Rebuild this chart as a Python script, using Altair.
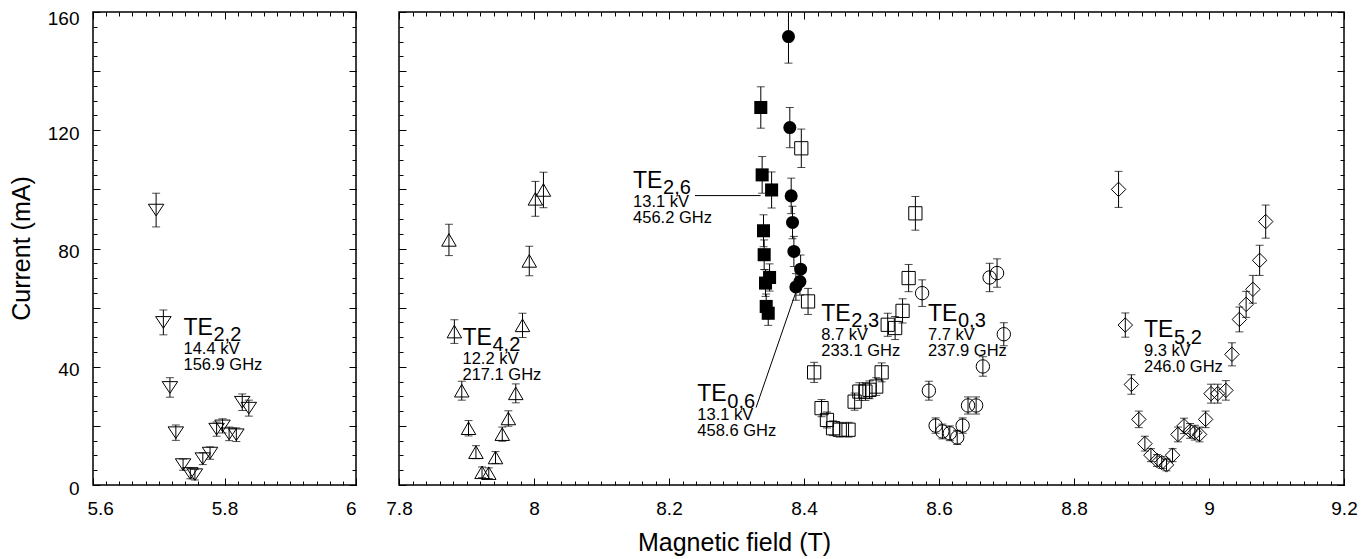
import altair as alt
import pandas as pd

FONT = "Liberation Sans"

# ---------------- data ----------------
# TE2,2 (left panel, open down-triangles)
te22_x = [5.696, 5.707, 5.717, 5.726, 5.737, 5.748, 5.755, 5.767, 5.778, 5.788, 5.797, 5.807, 5.818, 5.827, 5.837]
te22_y = [93, 55, 33, 17.7, 6.9, 3.9, 3.5, 8.9, 10.8, 18.9, 20, 17.3, 17, 28, 26]
te22_e = [5.7, 4.2, 3.3, 2.6, 1.9, 1.8, 1.8, 2.0, 2.1, 2.4, 2.4, 2.3, 2.3, 2.8, 2.7]

# TE4,2 (open up-triangles)
te42_x = [7.874, 7.882, 7.893, 7.903, 7.914, 7.923, 7.933, 7.943, 7.953, 7.962, 7.973, 7.983, 7.993, 8.002, 8.014]
te42_y = [82.9, 51.9, 31.9, 19.2, 11.1, 4.3, 4.0, 9.3, 17.2, 22.5, 31.0, 54.0, 75.8, 96.8, 99.8]
te42_e = [5.3, 4.0, 3.2, 2.6, 2.2, 1.8, 1.8, 2.0, 2.4, 2.6, 3.2, 4.1, 5.0, 5.9, 6.0]

# TE2,6 (filled squares)
te26_x = [8.336, 8.338, 8.352, 8.340, 8.341, 8.343, 8.349, 8.344, 8.347]
te26_y = [127.7, 104.9, 99.8, 86.0, 77.9, 68.3, 70.2, 60.4, 58.1]
te26_e = [7.0, 6.2, 6.1, 5.4, 5.0, 4.5, 4.6, 4.2, 4.1]

# TE0,6 (filled circles)
te06_x = [8.377, 8.379, 8.381, 8.383, 8.385, 8.395, 8.394, 8.388]
te06_y = [151.7, 120.9, 97.8, 88.8, 79.0, 73.0, 68.8, 67.0]
te06_e = [9.0, 6.8, 6.0, 5.5, 5.1, 4.8, 4.6, 4.5]

# TE2,3 (open squares)
te23_x = [8.396, 8.406, 8.415, 8.426, 8.434, 8.443, 8.453, 8.466, 8.475, 8.482, 8.491, 8.497, 8.507, 8.515, 8.524, 8.535, 8.546, 8.555, 8.565]
te23_y = [113.9, 62.1, 38.1, 26.0, 22.0, 19.2, 18.7, 18.7, 28.2, 31.6, 31.6, 32.2, 33.3, 38.1, 54.2, 53.1, 58.9, 70.0, 91.9]
te23_e = [6.5, 4.4, 3.4, 2.9, 2.7, 2.5, 2.5, 2.5, 2.9, 3.0, 3.0, 3.0, 3.0, 3.2, 3.9, 3.9, 4.1, 4.6, 5.7]

# TE0,3 (open circles)
te03_x = [8.575, 8.585, 8.595, 8.605, 8.616, 8.627, 8.635, 8.643, 8.655, 8.665, 8.675, 8.686, 8.696]
te03_y = [64.9, 31.9, 20.1, 18.1, 17.5, 16.1, 20.1, 26.9, 26.9, 40.1, 70.2, 71.7, 51.0]
te03_e = [4.5, 3.2, 2.6, 2.5, 2.5, 2.4, 2.6, 2.9, 2.9, 3.3, 4.8, 4.8, 3.9]

# TE5,2 (open diamonds)
te52_x = [8.866, 8.876, 8.885, 8.896, 8.905, 8.914, 8.923, 8.930, 8.937, 8.946, 8.954, 8.963, 8.972,
          8.979, 8.986, 8.995, 9.003, 9.013, 9.025, 9.034, 9.045, 9.055, 9.065, 9.075, 9.084]
te52_y = [100, 54.1, 34, 22.2, 14, 10.1, 8.3, 7.6, 6.8, 10.1, 17.1, 20, 18.3,
          17.7, 17.1, 22.2, 30.9, 30.9, 32, 44.2, 56, 61.1, 66.2, 76, 89.1]
te52_e = [6.1, 4.1, 3.3, 2.8, 2.5, 2.2, 2.0, 2.0, 2.0, 2.2, 2.5, 2.6, 2.5,
          2.5, 2.5, 2.8, 3.2, 3.2, 3.3, 3.9, 4.2, 4.4, 4.7, 5.1, 5.6]

# mode labels: anchor (left / baseline of "TE") in data coordinates
lab_left_mode = ["2,2"]
lab_left_kv = ["14.4 kV"]
lab_left_ghz = ["156.9 GHz"]
lab_left_x = [5.7376]
lab_left_y = [50.8]

lab_right_mode = ["4,2", "2,6", "0,6", "2,3", "0,3", "5,2"]
lab_right_kv = ["12.2 kV", "13.1 kV", "13.1 kV", "8.7 kV", "7.7 kV", "9.3 kV"]
lab_right_ghz = ["217.1 GHz", "456.2 GHz", "458.6 GHz", "233.1 GHz", "237.9 GHz", "246.0 GHz"]
lab_right_x = [7.894, 8.1467, 8.2419, 8.4256, 8.5837, 8.9037]
lab_right_y = [47.4, 100.6, 28.4, 55.5, 55.5, 49.9]

# leader lines (data coordinates)
lead_x = [8.2385, 8.329]
lead_y = [97.9, 26.2]
lead_x2 = [8.3357, 8.390]
lead_y2 = [97.9, 66.6]

# axis tick values
y_major = list(range(0, 161, 20))
y_minor = list(range(0, 161, 5))
x_major_left = [5.6, 5.8, 6.0]
x_minor_left = [round(5.6 + 0.02 * i, 2) for i in range(21)]
x_major_right = [round(7.8 + 0.2 * i, 1) for i in range(8)]
x_minor_right = [round(7.8 + 0.02 * i, 2) for i in range(71)]

# ---------------- helpers ----------------
def sdf(xs, ys, es):
    return pd.DataFrame({"x": xs, "y": ys,
                         "lo": [y - e for y, e in zip(ys, es)],
                         "hi": [y + e for y, e in zip(ys, es)]})

ys = alt.Scale(domain=[0, 160], nice=False, zero=False)
xs_left = alt.Scale(domain=[5.6, 6.0], nice=False, zero=False)
xs_right = alt.Scale(domain=[7.8, 9.2], nice=False, zero=False)

MAJ, MIN = 7, 4


def ax(orient, vals, size, **kw):
    """Axis drawn just inside the frame so that its ticks point inward."""
    base = dict(orient=orient, values=vals, tickSize=size, offset={"expr": str(-size)},
                domain=False, grid=False, tickColor="black", tickWidth=1, zindex=1,
                labels=False, title=None, labelFont=FONT, labelFontSize=19,
                labelColor="black", titleFont=FONT, titleColor="black",
                titleFontWeight="normal", minExtent=0, maxExtent=0)
    base.update(kw)
    return alt.Axis(**base)


def y_label_axis(title):
    kw = dict(labels=True, labelExpr="datum.value % 40 === 0 ? datum.label : ''",
              labelPadding=14, maxExtent=200,
              labelOffset={"condition": {"test": "datum.value === 160", "value": -3}, "value": 3},
              labelBaseline={"condition": {"test": "datum.value === 160", "value": "top"},
                             "value": "middle"})
    if title:
        kw.update(title=title, titleFontSize=25, titleX=-71, titleY=236,
                  titleAlign="center", titleBaseline="alphabetic", titleAngle=270)
    return ax("left", y_major, MAJ, **kw)


def x_label_axis(vals, title, flush):
    kw = dict(labels=True, labelExpr="format(datum.value, '~g')",
              labelPadding=14, labelOverlap=False, labelFlush=flush, maxExtent=200)
    if flush:
        kw.update(labelOffset={"condition": {"test": "datum.value < 5.65", "value": -6}, "value": 0})
    if title:
        kw.update(title=title, titleFontSize=25, titleX=335, titleY=72,
                  titleAlign="center", titleBaseline="alphabetic")
    return ax("bottom", vals, MAJ, **kw)


def axis_layers(df, xscale, xmaj, xmin, ytitle, xtitle, ylabels, flush):
    pairs = [
        (x_label_axis(xmaj, xtitle, flush), y_label_axis(ytitle) if ylabels else ax("left", y_major, MAJ)),
        (ax("bottom", xmin, MIN), ax("left", y_minor, MIN)),
        (ax("top", xmaj, MAJ), ax("right", y_major, MAJ)),
        (ax("top", xmin, MIN), ax("right", y_minor, MIN)),
    ]
    out = []
    for xa, ya in pairs:
        out.append(alt.Chart(df).mark_point(opacity=0).encode(
            x=alt.X("x:Q", scale=xscale, axis=xa),
            y=alt.Y("y:Q", scale=ys, axis=ya)))
    return out


def series_layers(df, xscale, mark_kw):
    base = alt.Chart(df)
    x = alt.X("x:Q", scale=xscale, axis=None)
    rule = base.mark_rule(color="black", strokeWidth=1, clip=True).encode(
        x=x, y=alt.Y("lo:Q", scale=ys, axis=None), y2="hi:Q")
    cap_lo = base.mark_tick(color="black", orient="horizontal", size=8, thickness=1, clip=True).encode(
        x=x, y=alt.Y("lo:Q", scale=ys, axis=None))
    cap_hi = base.mark_tick(color="black", orient="horizontal", size=8, thickness=1, clip=True).encode(
        x=x, y=alt.Y("hi:Q", scale=ys, axis=None))
    pts = base.mark_point(color="black", strokeWidth=1, opacity=1, clip=True, **mark_kw).encode(
        x=x, y=alt.Y("y:Q", scale=ys, axis=None))
    return [rule, cap_lo, cap_hi, pts]


def label_layers(df, xscale):
    base = alt.Chart(df)
    x = alt.X("x:Q", scale=xscale, axis=None)
    y = alt.Y("y:Q", scale=ys, axis=None)
    te = base.mark_text(align="left", baseline="alphabetic", font=FONT, fontSize=23,
                        color="black").encode(x=x, y=y, text=alt.value("TE"))
    sub = base.mark_text(align="left", baseline="alphabetic", font=FONT, fontSize=20,
                         color="black", dx=30, dy=6.5).encode(x=x, y=y, text="mode:N")
    kv = base.mark_text(align="left", baseline="alphabetic", font=FONT, fontSize=16.5,
                        color="black", dy=19).encode(x=x, y=y, text="kv:N")
    ghz = base.mark_text(align="left", baseline="alphabetic", font=FONT, fontSize=16.5,
                         color="black", dy=35).encode(x=x, y=y, text="ghz:N")
    return [te, sub, kv, ghz]


TRI_DOWN = "M-1,-0.75L1,-0.75L0,0.75Z"

# ---------------- left panel ----------------
d22 = sdf(te22_x, te22_y, te22_e)
lab_left = pd.DataFrame({"x": lab_left_x, "y": lab_left_y, "mode": lab_left_mode,
                         "kv": lab_left_kv, "ghz": lab_left_ghz})

left = alt.layer(
    *axis_layers(d22, xs_left, x_major_left, x_minor_left, "Current (mA)", None, True, True),
    *series_layers(d22, xs_left, dict(shape=TRI_DOWN, size=240, filled=False)),
    *label_layers(lab_left, xs_left),
).resolve_axis(x="independent", y="independent").properties(width=263, height=473)

# ---------------- right panel ----------------
d42 = sdf(te42_x, te42_y, te42_e)
d26 = sdf(te26_x, te26_y, te26_e)
d06 = sdf(te06_x, te06_y, te06_e)
d23 = sdf(te23_x, te23_y, te23_e)
d03 = sdf(te03_x, te03_y, te03_e)
d52 = sdf(te52_x, te52_y, te52_e)

lab_right = pd.DataFrame({"x": lab_right_x, "y": lab_right_y, "mode": lab_right_mode,
                          "kv": lab_right_kv, "ghz": lab_right_ghz})
leads = pd.DataFrame({"x": lead_x, "y": lead_y, "x2": lead_x2, "y2": lead_y2})
lead_layer = alt.Chart(leads).mark_rule(color="black", strokeWidth=1).encode(
    x=alt.X("x:Q", scale=xs_right, axis=None), y=alt.Y("y:Q", scale=ys, axis=None),
    x2="x2:Q", y2="y2:Q")

right = alt.layer(
    *axis_layers(d42, xs_right, x_major_right, x_minor_right, None, "Magnetic field (T)", False, False),
    *series_layers(d42, xs_right, dict(shape="triangle-up", size=210, filled=False)),
    *series_layers(d23, xs_right, dict(shape="square", size=175, filled=False)),
    *series_layers(d03, xs_right, dict(shape="circle", size=180, filled=False)),
    *series_layers(d52, xs_right, dict(shape="diamond", size=210, filled=False)),
    *series_layers(d26, xs_right, dict(shape="square", size=170, filled=True)),
    *series_layers(d06, xs_right, dict(shape="circle", size=170, filled=True)),
    lead_layer,
    *label_layers(lab_right, xs_right),
).resolve_axis(x="independent", y="independent").properties(width=945, height=473)

chart = alt.hconcat(left, right, spacing=43, bounds="flush").properties(
    padding={"left": 0, "top": 0, "right": 5, "bottom": 0},
    background="white",
).configure_view(stroke="black", strokeWidth=1.5)

chart.save("out.html", embed_options={"renderer": "svg", "actions": False})
